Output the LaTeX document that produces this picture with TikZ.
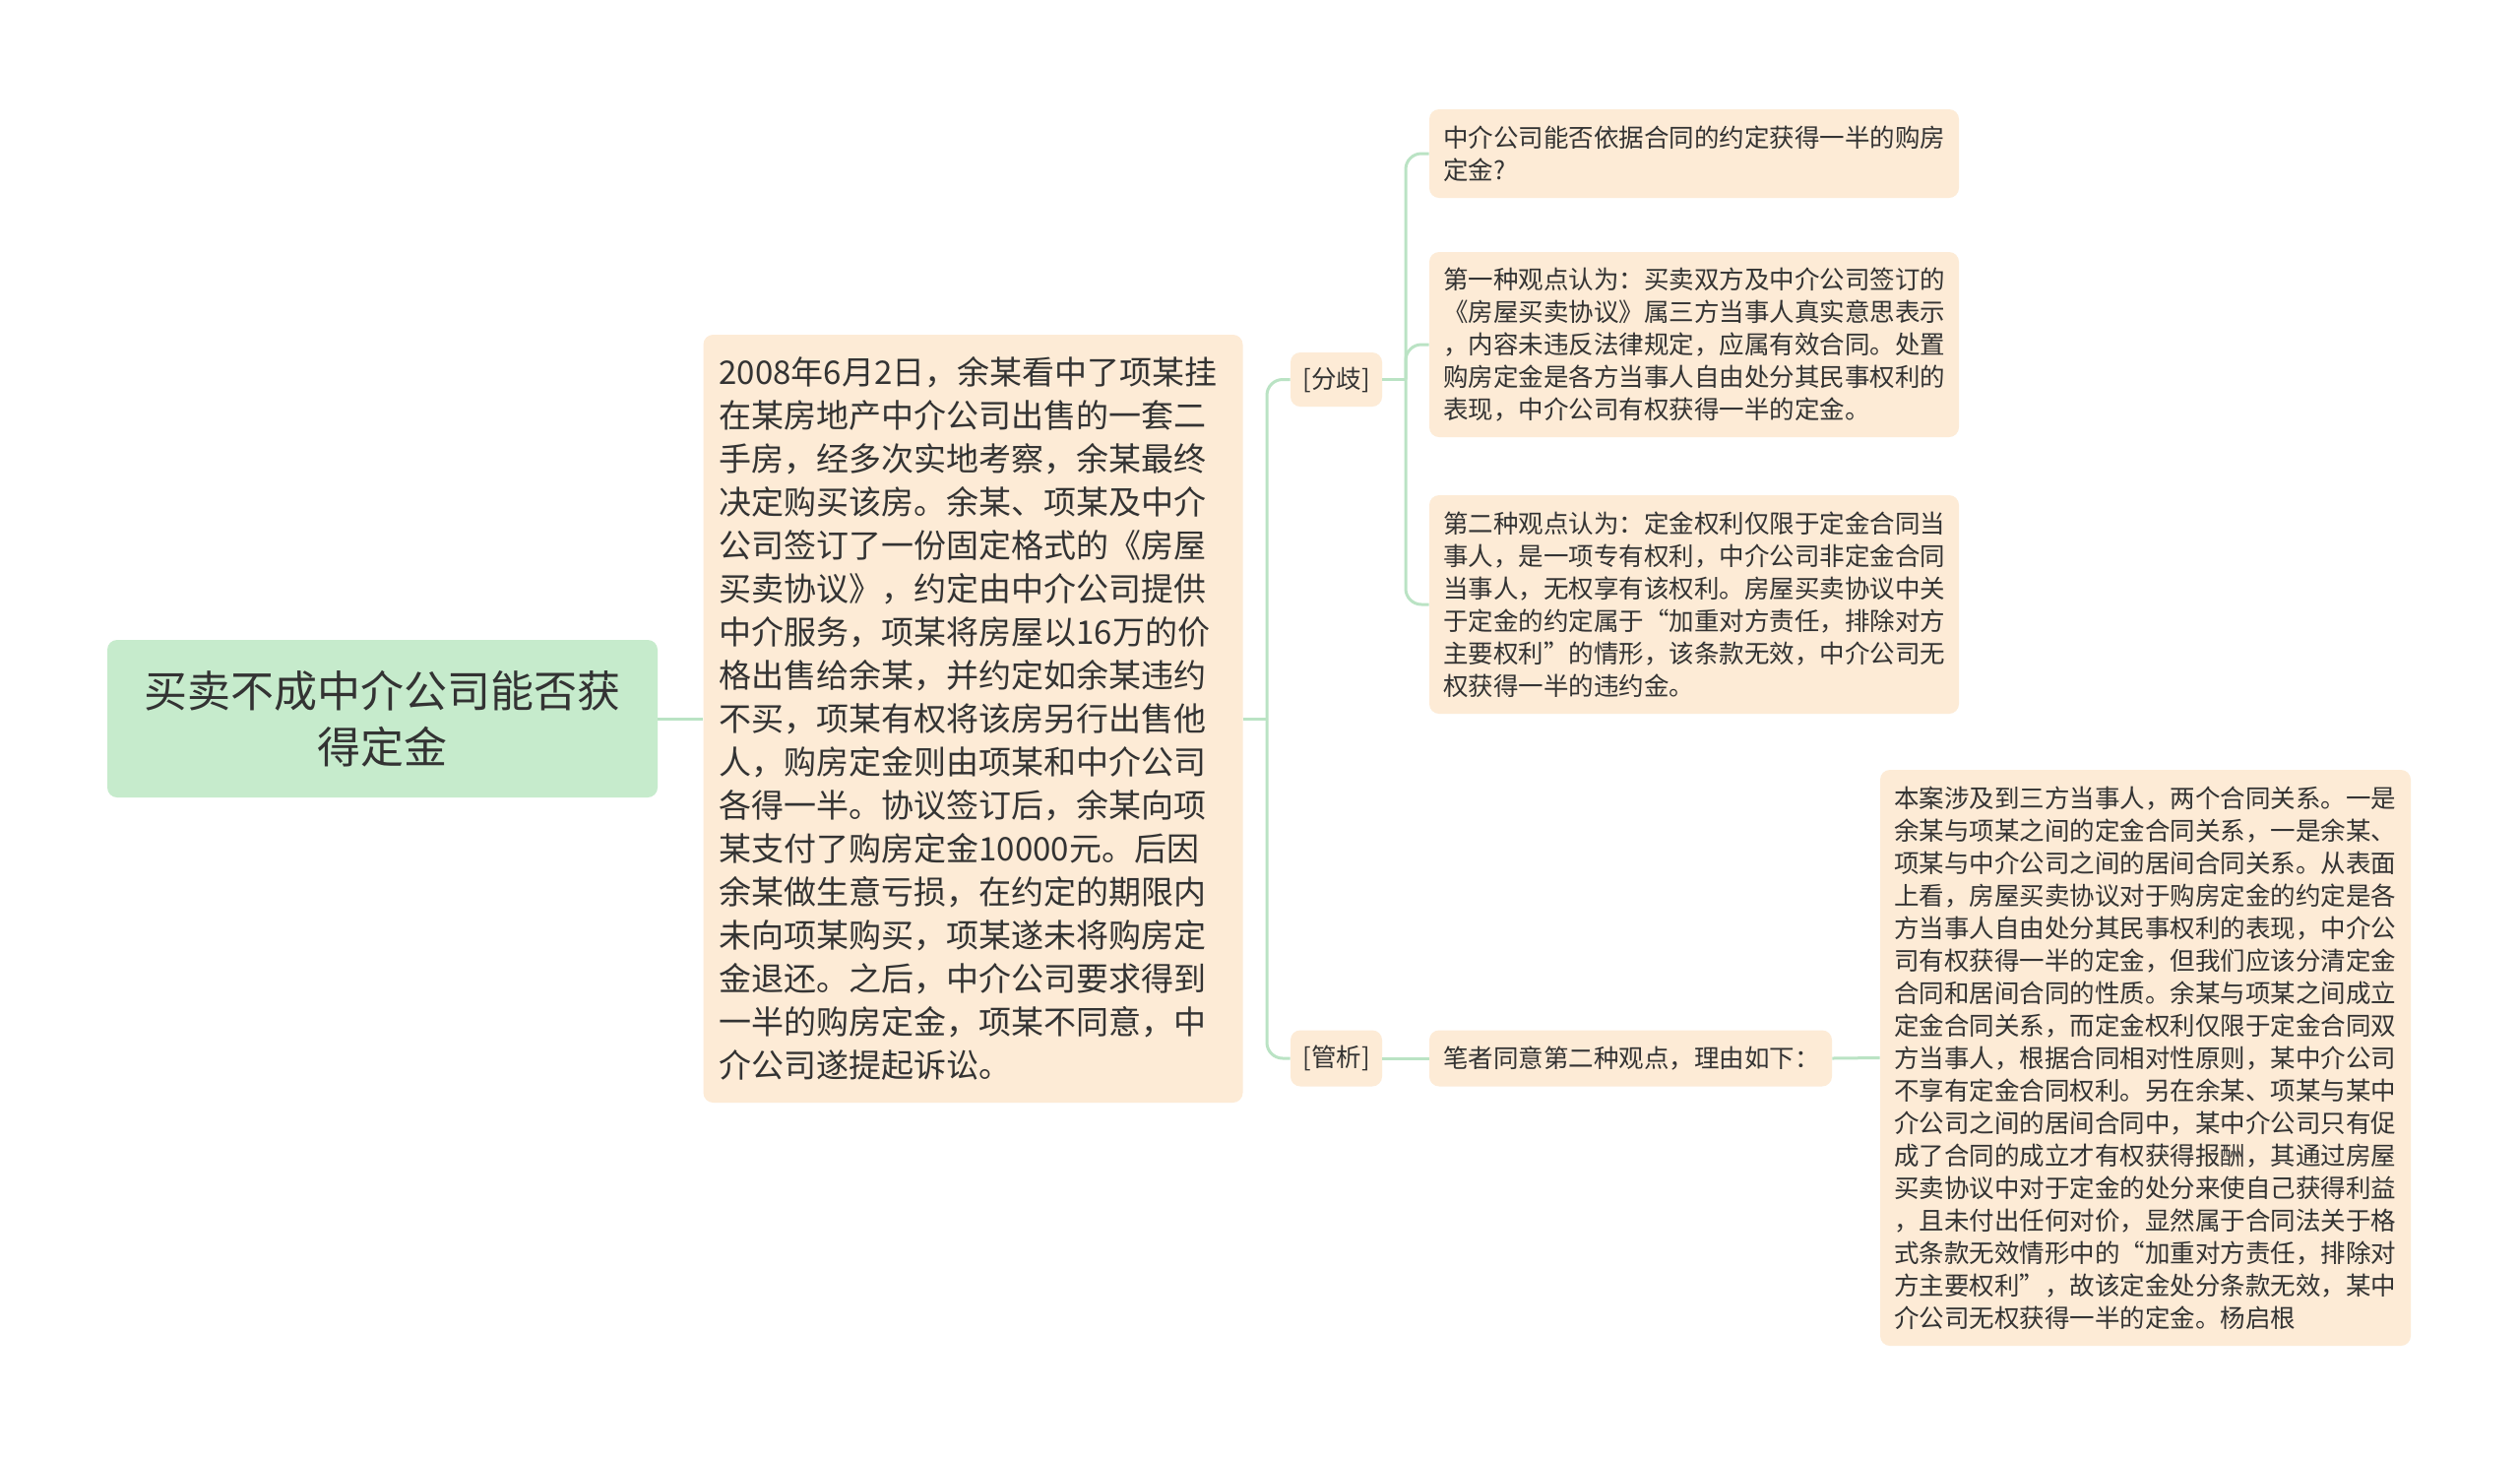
\documentclass[tikz,border=0pt]{standalone}
\usepackage{fontspec}
\setmainfont{Noto Sans CJK SC}
\definecolor{rootfill}{RGB}{198,235,204}
\definecolor{boxfill}{RGB}{253,235,214}
\definecolor{linec}{RGB}{186,227,196}
\definecolor{txt}{RGB}{51,51,51}
\tikzset{
  rootbox/.style={fill=rootfill, rounded corners=5pt, inner sep=0pt, align=center, text=txt,
    font={\fontsize{22pt}{28.5pt}\selectfont}},
  mainbox/.style={fill=boxfill, rounded corners=5pt, inner xsep=8pt, inner ysep=0pt, align=left, text=txt,
    font={\fontsize{16.5pt}{22pt}\selectfont}},
  smallbox/.style={fill=boxfill, rounded corners=5pt, inner xsep=7pt, inner ysep=0pt, align=left, text=txt,
    font={\fontsize{12.75pt}{16.5pt}\selectfont}},
  tagbox/.style={fill=boxfill, rounded corners=5pt, inner sep=0pt, align=center, text=txt,
    font={\fontsize{12.75pt}{16.5pt}\selectfont}},
  conn/.style={draw=linec, line width=1.5pt},
  rconn/.style={draw=linec, line width=1.5pt, rounded corners=8pt}
}
\begin{document}
\begin{tikzpicture}[x=0.5pt,y=-0.5pt]
\fill[white] (0,0) rectangle (2560,1479);
\useasboundingbox (0,0) rectangle (2560,1479);

\node[rootbox, minimum width=279.5pt, minimum height=80pt] (root) at (388.5,730) {买卖不成中介公司能否获\\得定金};

\node[mainbox, text width=258pt, minimum height=390pt] (main) at (988.5,730) {2008年6月2日，余某看中了项某挂\\在某房地产中介公司出售的一套二\\手房，经多次实地考察，余某最终\\决定购买该房。余某、项某及中介\\公司签订了一份固定格式的《房屋\\买卖协议》，约定由中介公司提供\\中介服务，项某将房屋以16万的价\\格出售给余某，并约定如余某违约\\不买，项某有权将该房另行出售他\\人，购房定金则由项某和中介公司\\各得一半。协议签订后，余某向项\\某支付了购房定金10000元。后因\\余某做生意亏损，在约定的期限内\\未向项某购买，项某遂未将购房定\\金退还。之后，中介公司要求得到\\一半的购房定金，项某不同意，中\\介公司遂提起诉讼。};

\node[tagbox, minimum width=46.5pt, minimum height=27.5pt] (fenqi) at (1357.5,385.5) {[分歧]};
\node[tagbox, minimum width=46.5pt, minimum height=28.5pt] (guanxi) at (1357.5,1075) {[管析]};

\node[smallbox, text width=255pt, minimum height=45pt] (q) at (1721,156) {中介公司能否依据合同的约定获得一半的购房\\定金?};

\node[smallbox, text width=255pt, minimum height=94pt] (v1) at (1721,350) {第一种观点认为：买卖双方及中介公司签订的\\《房屋买卖协议》属三方当事人真实意思表示\\，内容未违反法律规定，应属有效合同。处置\\购房定金是各方当事人自由处分其民事权利的\\表现，中介公司有权获得一半的定金。};

\node[smallbox, text width=255pt, minimum height=111pt] (v2) at (1721,614) {第二种观点认为：定金权利仅限于定金合同当\\事人，是一项专有权利，中介公司非定金合同\\当事人，无权享有该权利。房屋买卖协议中关\\于定金的约定属于“加重对方责任，排除对方\\主要权利”的情形，该条款无效，中介公司无\\权获得一半的违约金。};

\node[smallbox, text width=190.5pt, minimum height=28.5pt] (bz) at (1656.5,1075) {笔者同意第二种观点，理由如下：};

\node[smallbox, text width=255.5pt, minimum height=292.5pt] (last) at (2179.5,1074.5) {本案涉及到三方当事人，两个合同关系。一是\\余某与项某之间的定金合同关系，一是余某、\\项某与中介公司之间的居间合同关系。从表面\\上看，房屋买卖协议对于购房定金的约定是各\\方当事人自由处分其民事权利的表现，中介公\\司有权获得一半的定金，但我们应该分清定金\\合同和居间合同的性质。余某与项某之间成立\\定金合同关系，而定金权利仅限于定金合同双\\方当事人，根据合同相对性原则，某中介公司\\不享有定金合同权利。另在余某、项某与某中\\介公司之间的居间合同中，某中介公司只有促\\成了合同的成立才有权获得报酬，其通过房屋\\买卖协议中对于定金的处分来使自己获得利益\\，且未付出任何对价，显然属于合同法关于格\\式条款无效情形中的“加重对方责任，排除对\\方主要权利”，故该定金处分条款无效，某中\\介公司无权获得一半的定金。杨启根};

\coordinate (j1) at (1287,730);
\coordinate (j2) at (1428,385.5);

\begin{scope}[on background layer/.try]
\end{scope}
\draw[conn] (root.east) -- (main.west);
\draw[conn] (main.east) -- (j1);
\draw[rconn] (j1) |- (fenqi.west);
\draw[rconn] (j1) |- (guanxi.west);
\draw[conn] (fenqi.east) -- (j2);
\draw[rconn] (j2) |- (q.west);
\draw[rconn] (j2) |- (v1.west);
\draw[rconn] (j2) |- (v2.west);
\draw[conn] (guanxi.east) -- (bz.west);
\draw[conn] (bz.east) -- (last.west);
\end{tikzpicture}
\end{document}
